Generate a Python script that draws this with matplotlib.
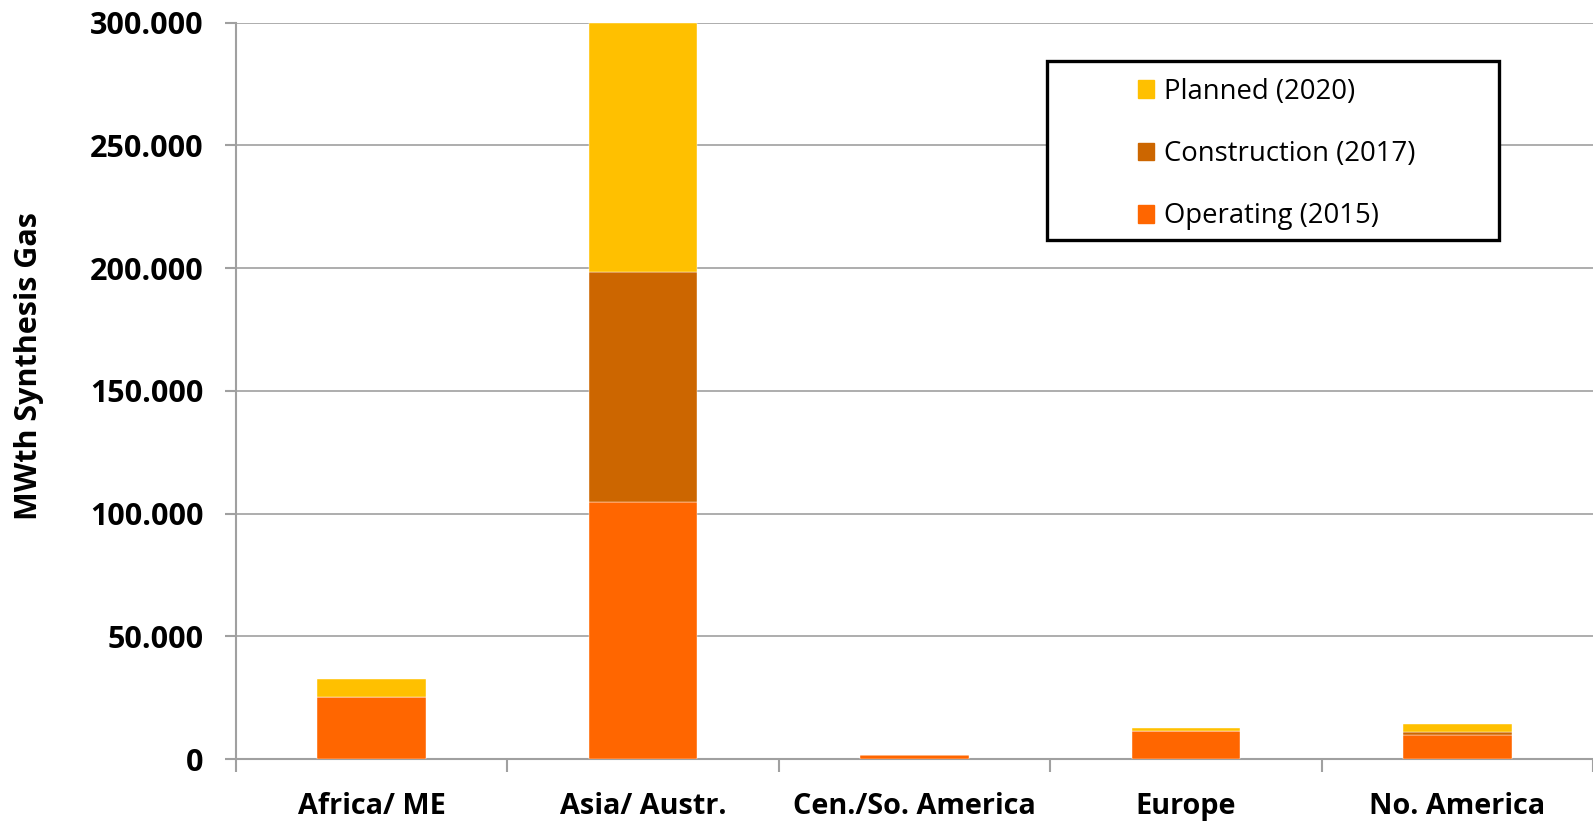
import matplotlib
matplotlib.use("Agg")
import matplotlib.pyplot as plt
import numpy as np
from matplotlib.patches import Patch, Rectangle
from matplotlib.ticker import FuncFormatter

plt.rcParams['font.family'] = ['Open Sans', 'DejaVu Sans']

regions = ['Africa/ ME', 'Asia/ Austr.', 'Cen./So. America', 'Europe', 'No. America']
operating = [25400, 104800, 1500, 11400, 9700]
construction = [0, 93500, 0, 0, 1500]
planned = [7200, 101700, 300, 1200, 2900]

col_op = '#FF6600'
col_con = '#CC6600'
col_plan = '#FFC000'
grey = '#a0a0a0'

fig = plt.figure(figsize=(15.93, 8.22), dpi=100)
ax = fig.add_axes([0.148, 0.0766, 0.852, 0.896])

x = np.arange(len(regions))
w = 0.4
op = np.array(operating)
con = np.array(construction)
pl = np.array(planned)
ax.bar(x, op, w, color=col_op, edgecolor='white', linewidth=0.3, zorder=3)
ax.bar(x, con, w, bottom=op, color=col_con, edgecolor='white', linewidth=0.3, zorder=3)
ax.bar(x, pl, w, bottom=op + con, color=col_plan, edgecolor='white', linewidth=0.3, zorder=3)

ax.set_xlim(-0.5, len(regions) - 0.5)
ax.set_ylim(0, 300000)
ax.set_yticks(np.arange(0, 300001, 50000))
ax.yaxis.set_major_formatter(FuncFormatter(lambda v, p: '0' if v == 0 else '{:,.0f}'.format(v).replace(',', '.')))
ax.yaxis.grid(True, color=grey, linewidth=1.2, zorder=0)
ax.tick_params(axis='y', length=8, width=1.5, color=grey, pad=15, labelsize=22)
for t in ax.get_yticklabels():
    t.set_fontweight('bold')

ax.set_xticks(x)
ax.set_xticklabels(regions, fontsize=20.8, fontweight='bold')
ax.set_xticks(np.arange(-0.5, len(regions)), minor=True)
ax.tick_params(axis='x', which='major', length=0, pad=24)
ax.tick_params(axis='x', which='minor', length=9, width=1.5, color=grey)

for s in ['top', 'right']:
    ax.spines[s].set_visible(False)
ax.spines['left'].set_color(grey)
ax.spines['bottom'].set_color(grey)
ax.spines['left'].set_linewidth(1.5)
ax.spines['bottom'].set_linewidth(1.5)

fig.text(29 / 1593, 1 - 366 / 822, 'MWth Synthesis Gas', rotation=90, fontsize=22,
         fontweight='bold', ha='center', va='center')

# legend box
box = Rectangle((1047 / 1593, 1 - 240 / 822), 452 / 1593, 179 / 822, transform=fig.transFigure,
                facecolor='white', edgecolor='black', linewidth=2.4, zorder=5)
fig.patches.append(box)
handles = [Patch(color=col_plan), Patch(color=col_con), Patch(color=col_op)]
labels = ['Planned (2020)', 'Construction (2017)', 'Operating (2015)']
leg = fig.legend(handles, labels, loc='upper left', bbox_to_anchor=(1124 / 1593, 1 - 64 / 822),
                 frameon=False, fontsize=19.8, handlelength=0.6, handleheight=0.6,
                 handletextpad=0.35, labelspacing=1.25, borderpad=0)
leg.set_zorder(6)

fig.savefig('out.png', dpi=100)
